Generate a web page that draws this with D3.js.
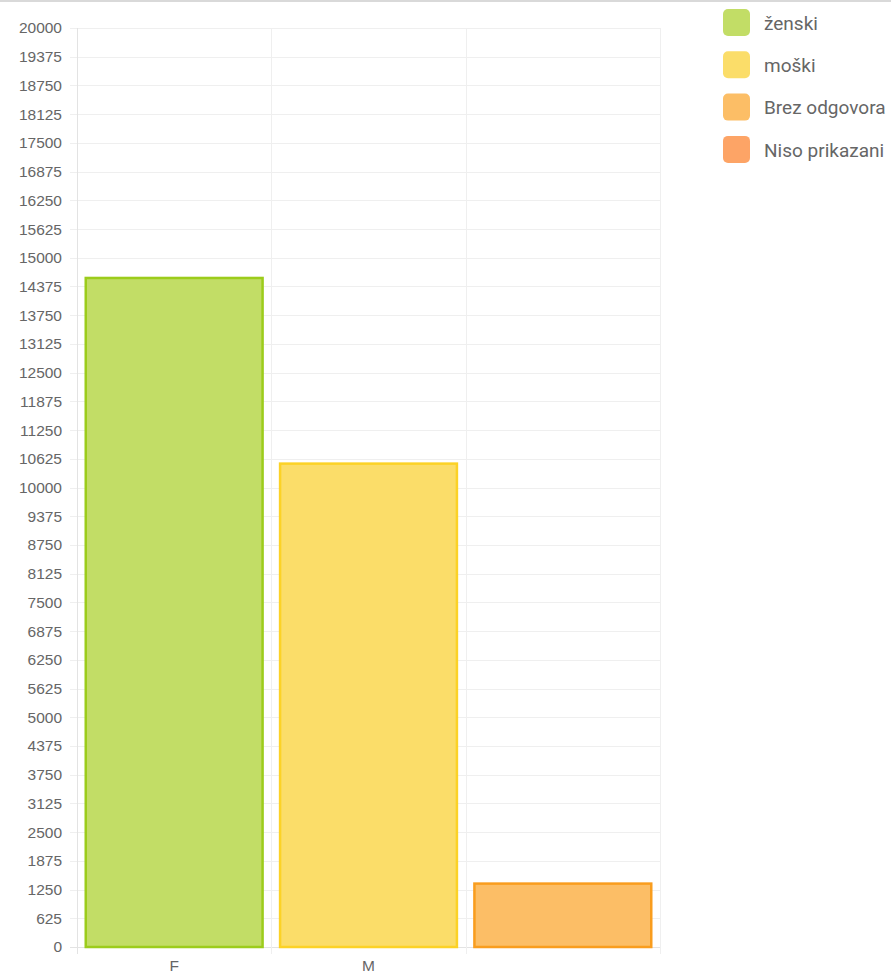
<!DOCTYPE html>
<html>
<head>
<meta charset="utf-8">
<script src="https://cdn.jsdelivr.net/npm/d3@7"></script>
<style>
  html, body { margin: 0; padding: 0; background: #fff; }
  #chart { width: 891px; height: 974px; border-top: 2px solid #d9d9d9; box-sizing: border-box; }
  text { font-family: "Liberation Sans", Arial, sans-serif; }
</style>
</head>
<body>
<div id="chart"></div>
<script>
var categories = ["F", "M", ""];
var values = [14560, 10520, 1380];
var legendLabels = ["ženski", "moški", "Brez odgovora", "Niso prikazani"];
var fillColors = ["#c2dd66", "#fbdd69", "#fcbe66", "#fda466"];
var strokeColors = ["#9ccc1c", "#fcd226", "#f99d1e", "#f98a3c"];
var yTicks = d3.range(0, 20001, 625);

var width = 891, height = 972;
var svg = d3.select("#chart").append("svg")
  .attr("width", width)
  .attr("height", height);

var plotLeft = 77, plotRight = 660, plotTop = 26, plotBottom = 945;

var y = d3.scaleLinear().domain([0, 20000]).range([plotBottom, plotTop]);
var x = d3.scaleBand().domain(categories).range([plotLeft, plotRight]).padding(0);

// horizontal grid
svg.append("g")
  .selectAll("line")
  .data(yTicks)
  .join("line")
  .attr("x1", plotLeft - 7)
  .attr("x2", plotRight)
  .attr("y1", function(d){ return Math.round(y(d)) + 0.5; })
  .attr("y2", function(d){ return Math.round(y(d)) + 0.5; })
  .attr("stroke", function(d){ return d === 0 ? "#e3e3e3" : "#efefef"; })
  .attr("stroke-width", 1);

// vertical grid
var vx = categories.map(function(c){ return x(c); }).concat([plotRight]);
svg.append("g")
  .selectAll("line")
  .data(vx)
  .join("line")
  .attr("x1", function(d){ return Math.round(d) + 0.5; })
  .attr("x2", function(d){ return Math.round(d) + 0.5; })
  .attr("y1", plotTop)
  .attr("y2", plotBottom + 7)
  .attr("stroke", function(d, i){ return i === 0 ? "#e3e3e3" : "#efefef"; });

// y labels
var yAxis = d3.axisLeft(y).tickValues(yTicks).tickSize(0).tickPadding(15).tickFormat(d3.format("d"));
var ya = svg.append("g").attr("transform", "translate(" + plotLeft + ",0)").call(yAxis);
ya.select(".domain").remove();
ya.selectAll("text").attr("font-size", 15.5).attr("fill", "#666")
  .style("font-family", "'Liberation Sans', Arial, sans-serif");

// x labels
var xAxis = d3.axisBottom(x).tickSize(0).tickPadding(13);
var xa = svg.append("g").attr("transform", "translate(0," + plotBottom + ")").call(xAxis);
xa.select(".domain").remove();
xa.selectAll("text").attr("font-size", 15.5).attr("fill", "#666")
  .style("font-family", "'Liberation Sans', Arial, sans-serif");

// bars
var bw = x.bandwidth() * 0.91;
svg.append("g")
  .selectAll("rect")
  .data(values)
  .join("rect")
  .attr("x", function(d, i){ return x(categories[i]) + (x.bandwidth() - bw) / 2; })
  .attr("y", function(d){ return y(d); })
  .attr("width", bw)
  .attr("height", function(d){ return plotBottom - y(d); })
  .attr("fill", function(d, i){ return fillColors[i]; })
  .attr("stroke", function(d, i){ return strokeColors[i]; })
  .attr("stroke-width", 2.5);

// legend
var lg = svg.append("g")
  .selectAll("g")
  .data(legendLabels)
  .join("g")
  .attr("transform", function(d, i){ return "translate(723," + (7 + i * 42.3) + ")"; });
lg.append("rect")
  .attr("width", 27).attr("height", 27).attr("rx", 5)
  .attr("fill", function(d, i){ return fillColors[i]; });
lg.append("text")
  .attr("x", 41).attr("y", 14).attr("dy", "0.35em")
  .attr("font-size", 19)
  .attr("fill", "#666")
  .style("font-family", "Roboto, sans-serif")
  .text(function(d){ return d; });
</script>
</body>
</html>
